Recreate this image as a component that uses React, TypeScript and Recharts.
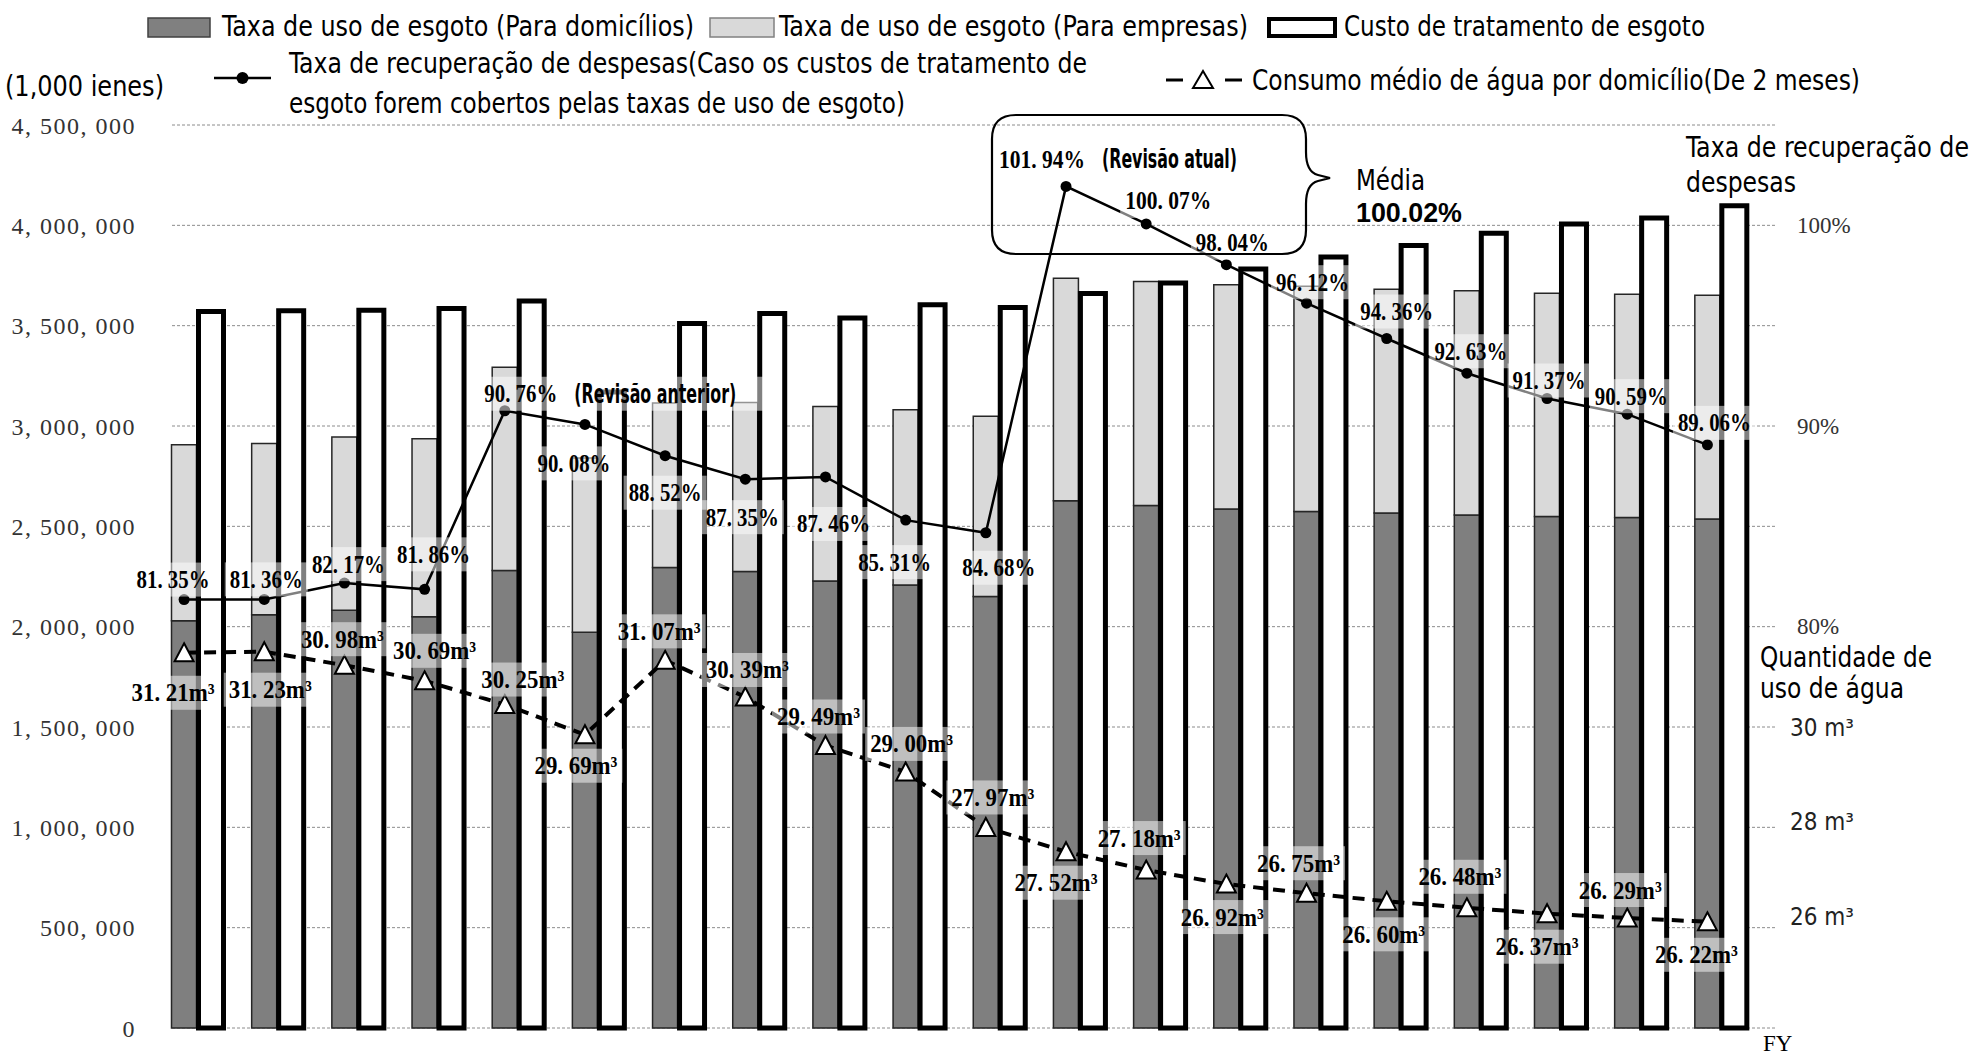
import { Bar, CartesianGrid, ComposedChart, LabelList, Line, XAxis, YAxis } from "recharts"

const fiscalYears = ["H26", "H27", "H28", "H29", "H30", "R1", "R2", "R3", "R4", "R5", "R6", "R7", "R8", "R9", "R10", "R11", "R12", "R13", "R14", "R15"]

// all money values in 1,000 ienes
const householdFees = [2030000, 2059000, 2082000, 2050000, 2280000, 1972000, 2295000, 2275000, 2228000, 2208000, 2150000, 2627000, 2604000, 2587000, 2574000, 2566000, 2557000, 2549000, 2544000, 2536000]
const businessFees = [876000, 854000, 863000, 886000, 1013000, 868000, 819000, 842000, 869000, 873000, 898000, 1109000, 1116000, 1117000, 1122000, 1115000, 1117000, 1113000, 1113000, 1116000]
const treatmentCosts = [3571000, 3574000, 3577000, 3586000, 3623000, 3170000, 3511000, 3561000, 3538000, 3604000, 3591000, 3660000, 3713000, 3782000, 3842000, 3899000, 3960000, 4007000, 4036000, 4098000]
const recoveryRates = [81.35, 81.36, 82.17, 81.86, 90.76, 90.08, 88.52, 87.35, 87.46, 85.31, 84.68, 101.94, 100.07, 98.04, 96.12, 94.36, 92.63, 91.37, 90.59, 89.06]
const waterUse = [31.21, 31.23, 30.98, 30.69, 30.25, 29.69, 31.07, 30.39, 29.49, 29.0, 27.97, 27.52, 27.18, 26.92, 26.75, 26.6, 26.48, 26.37, 26.29, 26.22]
const rateNotes = ["", "", "", "", "(Revisão anterior)", "", "", "", "", "", "", "(Revisão atual)", "", "", "", "", "", "", "", ""]

const moneyTicks = [0, 500000, 1000000, 1500000, 2000000, 2500000, 3000000, 3500000, 4000000, 4500000]
const rateTicks = [80, 90, 100]
const waterTicks = [26, 28, 30]

// where each data label sits relative to its point
const rateLabelDx = [-11, 2, 4, 9, 16, -11, 0, -3, 8, -11, 13, -24, 22, 6, 6, 10, 4, 2, 4, 7]
const rateLabelDy = [-20, -20, -19, -35, -17, 39, 37, 38, 47, 42, 35, -27, -23, -22, -21, -27, -22, -18, -18, -22]
const waterLabelDx = [-11, 6, -2, 10, 18, -9, -6, 2, -7, 6, 7, -10, -7, -4, -8, -3, -7, -10, -7, -11]
const waterLabelDy = [40, 38, -26, -30, -25, 31, -29, -27, -29, -28, -30, 31, -32, 33, -30, 33, -31, 33, -28, 33]

const data = fiscalYears.map((fy, i) => ({
  fy,
  household: householdFees[i],
  business: businessFees[i],
  cost: treatmentCosts[i],
  rate: recoveryRates[i],
  water: waterUse[i],
}))

const serif = "'Liberation Serif', 'DejaVu Serif', serif"
const narrow = "'Liberation Sans Narrow', 'Arial Narrow', 'DejaVu Sans Condensed', 'Liberation Sans', sans-serif"
const sans = "'Liberation Sans', Arial, sans-serif"

const withGap = (s: string) => s.replace(/,/g, ", ")
const numText = (v: number) => v.toFixed(2).replace(".", ". ")

function TagLabel({ cx, cy, text, width, note }: { cx: number; cy: number; text: string; width: number; note?: string }) {
  const noteWidth = note ? note.length * 9 : 0
  const boxW = width + 10 + (note ? noteWidth + 52 : 0)
  return (
    <g>
      <rect x={cx - width / 2 - 5} y={cy - 17} width={boxW} height={34} fill="#fff" fillOpacity={0.5} />
      <text
        x={cx}
        y={cy}
        textAnchor="middle"
        dominantBaseline="central"
        fontFamily={serif}
        fontWeight="bold"
        fontSize={25}
        textLength={width}
        lengthAdjust="spacingAndGlyphs"
        fill="#000"
      >
        {text}
      </text>
      {note ? (
        <text
          x={cx + width / 2 + 17}
          y={cy}
          dominantBaseline="central"
          fontFamily={narrow}
          fontWeight="bold"
          fontSize={26}
          textLength={noteWidth}
          lengthAdjust="spacingAndGlyphs"
          fill="#000"
        >
          {note}
        </text>
      ) : null}
    </g>
  )
}

const renderRateLabel = (p: any) => {
  const i = p.index ?? recoveryRates.indexOf(Number(p.value))
  if (i < 0 || p.x == null) return null
  const text = numText(recoveryRates[i]) + "%"
  return (
    <TagLabel
      key={`rl-${i}`}
      cx={Number(p.x) + rateLabelDx[i]}
      cy={Number(p.y) + rateLabelDy[i]}
      text={text}
      width={text.length > 7 ? 86 : 73}
      note={rateNotes[i]}
    />
  )
}

const renderWaterLabel = (p: any) => {
  const i = p.index ?? waterUse.indexOf(Number(p.value))
  if (i < 0 || p.x == null) return null
  return (
    <TagLabel
      key={`wl-${i}`}
      cx={Number(p.x) + waterLabelDx[i]}
      cy={Number(p.y) + waterLabelDy[i]}
      text={numText(waterUse[i]) + "m³"}
      width={83}
    />
  )
}

const TriangleDot = (p: any) => {
  const { cx, cy, index } = p
  if (cx == null || cy == null) return <g key={`t-${index}`} />
  return (
    <polygon
      key={`t-${index}`}
      points={`${cx},${cy - 9.5} ${cx + 9.5},${cy + 8.5} ${cx - 9.5},${cy + 8.5}`}
      fill="#fff"
      stroke="#000"
      strokeWidth={2}
    />
  )
}

const gridLine = (p: any) => (
  <line key={p.key} x1={p.x1 + 28} y1={p.y1} x2={p.x2 + 14} y2={p.y2} stroke="#8c8c8c" strokeWidth={1} strokeDasharray="3 2" />
)

const RateTick = (p: any) => (
  <text x={p.x} y={p.y} dominantBaseline="central" fontFamily={serif} fontSize={23} fill="#333">
    {p.payload.value}%
  </text>
)

// labels of the water scale sit in the same column as the rate labels
const WATER_LABEL_X = 1790
const WaterTick = (p: any) => (
  <text x={WATER_LABEL_X} y={p.y} dominantBaseline="central" fontFamily={narrow} fontSize={24} fill="#222">
    {p.payload.value} m³
  </text>
)

function Overlay() {
  const t = (x: number, y: number, s: string, len: number) => (
    <text x={x} y={y} fontFamily={narrow} fontSize={29} textLength={len} lengthAdjust="spacingAndGlyphs" fill="#000">
      {s}
    </text>
  )
  return (
    <svg width={1977} height={1064} style={{ position: "absolute", left: 0, top: 0, pointerEvents: "none" }}>
      <rect x={148} y={18} width={62} height={19} fill="#808080" stroke="#404040" strokeWidth={1.5} />
      {t(222, 36, "Taxa de uso de esgoto (Para domicílios)", 472)}
      <rect x={710} y={18} width={64} height={19} fill="#d9d9d9" stroke="#808080" strokeWidth={1.5} />
      {t(779, 36, "Taxa de uso de esgoto (Para empresas)", 469)}
      <rect x={1269} y={19} width={66} height={17} fill="#fff" stroke="#000" strokeWidth={4} />
      {t(1344, 36, "Custo de tratamento de esgoto", 361)}

      <line x1={214} y1={78} x2={271} y2={78} stroke="#000" strokeWidth={2.5} />
      <circle cx={242.5} cy={78} r={6} fill="#000" />
      {t(289, 73, "Taxa de recuperação de despesas(Caso os custos de tratamento de", 798)}
      {t(289, 113, "esgoto forem cobertos pelas taxas de uso de esgoto)", 616)}
      {t(5, 96, "(1,000 ienes)", 159)}

      <line x1={1166} y1={80} x2={1183} y2={80} stroke="#000" strokeWidth={3} />
      <polygon points="1203,71 1213,88 1193,88" fill="#fff" stroke="#000" strokeWidth={2} />
      <line x1={1225} y1={80} x2={1242} y2={80} stroke="#000" strokeWidth={3} />
      {t(1252, 90, "Consumo médio de água por domicílio(De 2 meses)", 608)}

      <path
        d="M 1016 115 H 1282 Q 1306 115 1306 139 V 152 Q 1306 172 1318 175 L 1330 178 L 1318 181 Q 1306 184 1306 204 V 230 Q 1306 254 1282 254 H 1016 Q 992 254 992 230 V 139 Q 992 115 1016 115 Z"
        fill="none"
        stroke="#000"
        strokeWidth={2.2}
      />
      {t(1356, 190, "Média", 69)}
      <text x={1356} y={222} fontFamily={sans} fontWeight="bold" fontSize={28} textLength={106} lengthAdjust="spacingAndGlyphs" fill="#000">
        100.02%
      </text>

      {t(1686, 157, "Taxa de recuperação de", 283)}
      {t(1686, 192, "despesas", 110)}
      {t(1760, 667, "Quantidade de", 172)}
      {t(1760, 698, "uso de água", 144)}

      <text x={1763} y={1051} fontFamily={serif} fontSize={23} fill="#000">
        FY
      </text>
    </svg>
  )
}

export default function App() {
  return (
    <div style={{ position: "absolute", left: 0, top: 0, width: 1977, height: 1064, background: "#fff" }}>
      <ComposedChart width={1977} height={1064} data={data} margin={{ top: 125, right: 0, bottom: 0, left: 0 }} barSize={25} barGap={2}>
        <CartesianGrid xAxisId="main" yAxisId="left" vertical={false} horizontal={gridLine} />
        <XAxis
          xAxisId="main"
          dataKey="fy"
          height={36}
          padding={{ left: 0, right: 13.5 }}
          interval={0}
          tickLine={false}
          axisLine={false}
          tickSize={0}
          tickMargin={6}
          tick={{ fontFamily: serif, fontSize: 23, fill: "#000" }}
        />
        <XAxis xAxisId="bars" dataKey="fy" padding={{ left: 13.5, right: 0 }} hide />
        <YAxis
          yAxisId="left"
          width={144}
          domain={[0, 4500000]}
          ticks={moneyTicks}
          tickFormatter={(v) => withGap(Number(v).toLocaleString("en-US"))}
          tickLine={false}
          axisLine={false}
          tickSize={0}
          tickMargin={8}
          tick={{ fontFamily: serif, fontSize: 24, fill: "#333", letterSpacing: 1.5 }}
        />
        <YAxis
          yAxisId="rate"
          orientation="right"
          width={215}
          domain={[60, 105]}
          ticks={rateTicks}
          tickLine={false}
          axisLine={false}
          tickSize={0}
          tickMargin={36}
          tick={RateTick}
        />
        <YAxis
          yAxisId="waterLabel"
          orientation="right"
          width={1}
          domain={[23.65, 42.74]}
          allowDataOverflow
          ticks={waterTicks}
          tickLine={false}
          axisLine={false}
          tickSize={0}
          tick={WaterTick}
        />
        <YAxis yAxisId="water" domain={[24.25, 41]} hide />

        <Bar xAxisId="bars" yAxisId="left" dataKey="household" stackId="fee" fill="#7f7f7f" stroke="#262626" strokeWidth={1.5} isAnimationActive={false} />
        <Bar xAxisId="bars" yAxisId="left" dataKey="business" stackId="fee" fill="#d9d9d9" stroke="#262626" strokeWidth={1.5} isAnimationActive={false} />
        <Bar xAxisId="bars" yAxisId="left" dataKey="cost" fill="#fff" stroke="#000" strokeWidth={5} isAnimationActive={false} />

        <Line
          xAxisId="main"
          yAxisId="rate"
          type="linear"
          dataKey="rate"
          stroke="#000"
          strokeWidth={2.5}
          dot={{ r: 5.5, fill: "#000", stroke: "#000", strokeWidth: 0 }}
          isAnimationActive={false}
        >
          <LabelList dataKey="rate" content={renderRateLabel} />
        </Line>
        <Line
          xAxisId="main"
          yAxisId="water"
          type="linear"
          dataKey="water"
          stroke="#000"
          strokeWidth={4}
          strokeDasharray="12 8"
          dot={TriangleDot}
          isAnimationActive={false}
        >
          <LabelList dataKey="water" content={renderWaterLabel} />
        </Line>
      </ComposedChart>
      <Overlay />
    </div>
  )
}
